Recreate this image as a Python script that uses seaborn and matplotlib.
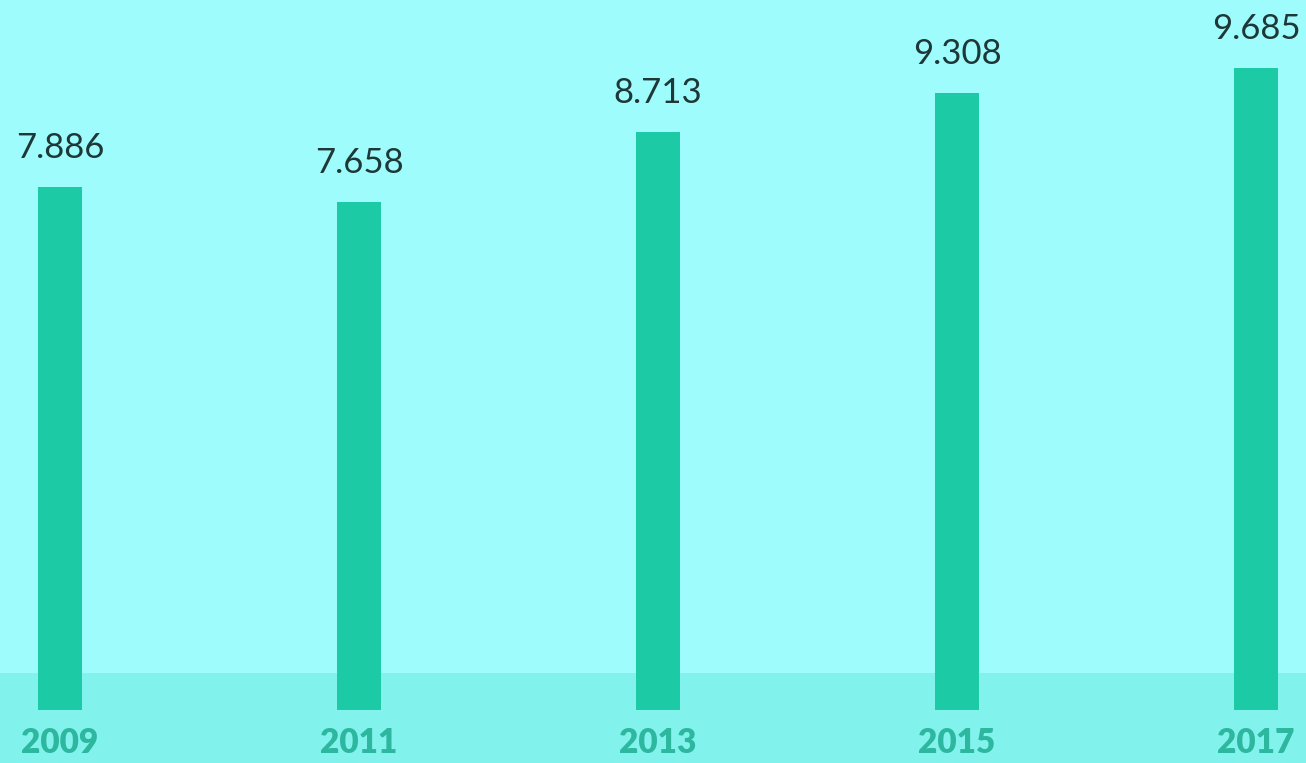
import matplotlib
matplotlib.use("Agg")
import matplotlib.pyplot as plt
import seaborn as sns
import pandas as pd

years = ["2009", "2011", "2013", "2015", "2017"]
values = [7.886, 7.658, 8.713, 9.308, 9.685]

BG = "#9ffcfc"
BAND = "#82f2ec"
BAR = "#1ccba6"
YEAR_TXT = "#2db79f"
VAL_TXT = "#1e3838"

sns.set_theme(style="white")
plt.rcParams["font.family"] = ["Lato", "DejaVu Sans"]

df = pd.DataFrame({"year": years, "value": values})

fig = plt.figure(figsize=(13.06, 7.63), dpi=100, facecolor=BG)
ax = fig.add_axes([0, 0, 1, 1])
ax.set_facecolor(BG)

# lower band behind the year labels
ax.axhspan(-0.80, 0.56, color=BAND, zorder=0, lw=0)

sns.barplot(data=df, x="year", y="value", order=years, color=BAR,
            width=0.145, saturation=1, linewidth=0, edgecolor="none",
            ax=ax, zorder=2)

ax.set_xlim(-0.2007, 4.167)
ax.set_ylim(-0.80, 10.71)

for i, (yr, v) in enumerate(zip(years, values)):
    ax.annotate(f"{v:.3f}", (i, v), xytext=(0, 28), textcoords="offset points",
                ha="center", va="center", fontsize=25, color=VAL_TXT, zorder=3)
    ax.text(i, -0.50, yr, ha="center", va="center", fontsize=24,
            fontweight="heavy", color=YEAR_TXT, zorder=3)

ax.set_axis_off()
fig.savefig("out.png", dpi=100, facecolor=BG)
